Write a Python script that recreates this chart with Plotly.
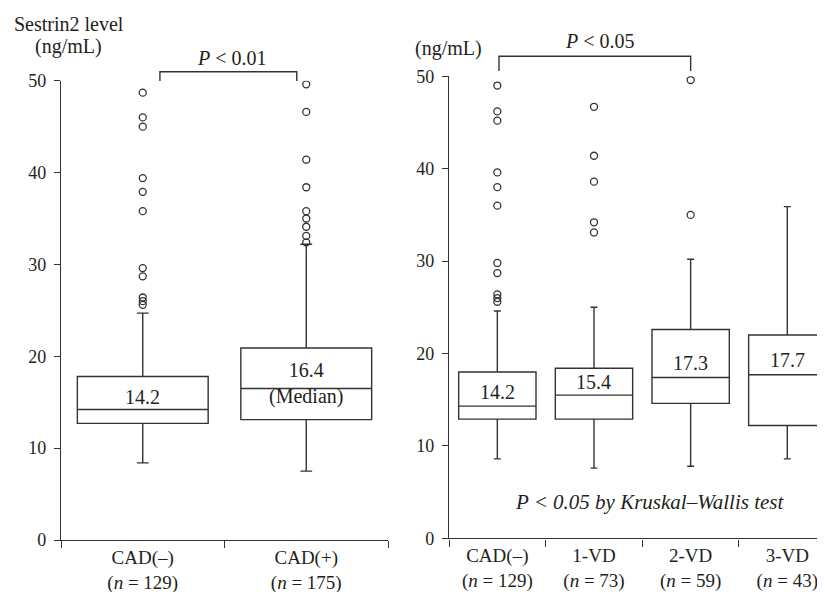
import plotly.graph_objects as go

# ---------------- data ----------------
left_cats = ["CAD(–)", "CAD(+)"]
left_ticktext = ["CAD(–)<br>(<i>n</i> = 129)", "CAD(+)<br>(<i>n</i> = 175)"]
left_q1 = [12.7, 13.1]
left_median = [14.2, 16.5]
left_q3 = [17.8, 20.9]
left_lower = [8.4, 7.5]
left_upper = [24.7, 32.2]
left_median_labels = ["14.2", "16.4<br>(Median)"]
left_outliers = {
    "CAD(–)": [48.7, 46.0, 45.0, 39.4, 37.9, 35.8, 29.6, 28.7, 26.4, 26.0, 25.6],
    "CAD(+)": [49.6, 46.6, 41.4, 38.4, 35.8, 35.0, 34.1, 33.1, 32.4],
}

right_cats = ["CAD(–)", "1-VD", "2-VD", "3-VD"]
right_ticktext = ["CAD(–)<br>(<i>n</i> = 129)", "1-VD<br>(<i>n</i> = 73)",
                  "2-VD<br>(<i>n</i> = 59)", "3-VD<br>(<i>n</i> = 43)"]
right_q1 = [12.9, 12.9, 14.6, 12.2]
right_median = [14.3, 15.5, 17.4, 17.7]
right_q3 = [18.0, 18.4, 22.6, 22.0]
right_lower = [8.6, 7.6, 7.8, 8.6]
right_upper = [24.6, 25.0, 30.2, 35.9]
right_median_labels = ["14.2", "15.4", "17.3", "17.7"]
right_outliers = {
    "CAD(–)": [49.0, 46.2, 45.2, 39.6, 38.0, 36.0, 29.8, 28.7, 26.4, 26.0, 25.6],
    "1-VD": [46.7, 41.4, 38.6, 34.2, 33.1],
    "2-VD": [49.6, 35.0],
    "3-VD": [],
}

y_ticks = [0, 10, 20, 30, 40, 50]

# ---------------- style / geometry ----------------
FONT = "Liberation Serif, Times New Roman, serif"
TXT = "#231f20"
LINE = "#333333"
OFF = 8            # page body margin
W, H = 825 - OFF, 592 - OFF


def px(x):
    return (x - OFF) / W


def py(y):
    return 1 - (y - OFF) / H


fig = go.Figure()


def add_panel(cats, q1, med, q3, lo, up, outl, xa, ya):
    fig.add_trace(go.Box(
        x=cats, q1=q1, median=med, q3=q3, lowerfence=lo, upperfence=up,
        width=0.8, whiskerwidth=0.09, fillcolor="white",
        line=dict(color=LINE, width=1.4), boxpoints=False,
        xaxis=xa, yaxis=ya, showlegend=False, hoverinfo="skip"))
    ox, oy = [], []
    for c in cats:
        for v in outl.get(c, []):
            ox.append(c)
            oy.append(v)
    fig.add_trace(go.Scatter(
        x=ox, y=oy, mode="markers", xaxis=xa, yaxis=ya, showlegend=False,
        marker=dict(symbol="circle-open", size=7, color=LINE,
                    line=dict(width=1.3, color=LINE)),
        hoverinfo="skip"))


add_panel(left_cats, left_q1, left_median, left_q3, left_lower, left_upper,
          left_outliers, "x", "y")
add_panel(right_cats, right_q1, right_median, right_q3, right_lower, right_upper,
          right_outliers, "x2", "y2")

# median labels (inside the boxes, above the median line)
left_label_offset = [1.35, 0.5]
for c, m, t, off in zip(left_cats, left_median, left_median_labels, left_label_offset):
    fig.add_annotation(x=c, y=m + off, xref="x", yref="y", text=t, showarrow=False,
                       font=dict(family=FONT, size=20, color=TXT), yanchor="middle")
right_label_offset = [1.55, 1.45, 1.55, 1.55]
for c, m, t, off in zip(right_cats, right_median, right_median_labels, right_label_offset):
    fig.add_annotation(x=c, y=m + off, xref="x2", yref="y2", text=t, showarrow=False,
                       font=dict(family=FONT, size=20, color=TXT), yanchor="middle")

axis_common = dict(showgrid=False, zeroline=False, showline=True, linecolor=LINE,
                   linewidth=1.4, ticks="outside", tickcolor=LINE, tickwidth=1.4,
                   automargin=False)

fig.update_layout(
    template="none",
    width=W, height=H, margin=dict(l=0, r=0, t=0, b=0, pad=0, autoexpand=False),
    paper_bgcolor="white", plot_bgcolor="white",
    font=dict(family=FONT, color=TXT),
    xaxis=dict(domain=[px(61), px(388)], type="category",
               categoryorder="array", categoryarray=left_cats,
               tickvals=left_cats, ticktext=left_ticktext, tickson="boundaries",
               range=[-0.5, 1.5], ticklen=7, anchor="y",
               tickfont=dict(family=FONT, size=19, color=TXT), **axis_common),
    yaxis=dict(domain=[py(540), py(80.7)], range=[0, 50], tickvals=y_ticks,
               ticklen=6, anchor="x", ticklabelstandoff=4,
               tickfont=dict(family=FONT, size=18, color=TXT), **axis_common),
    xaxis2=dict(domain=[px(449), 1.0], type="category",
                categoryorder="array", categoryarray=right_cats,
                tickvals=right_cats, ticktext=right_ticktext, tickson="boundaries",
                range=[-0.5, 3.39], ticklen=7, anchor="y2",
                tickfont=dict(family=FONT, size=19, color=TXT), **axis_common),
    yaxis2=dict(domain=[py(538.3), py(76.3)], range=[0, 50], tickvals=y_ticks,
                ticklen=6, anchor="x2", ticklabelstandoff=4,
                tickfont=dict(family=FONT, size=18, color=TXT), **axis_common),
)

# brackets
fig.add_shape(type="path", xref="x", yref="paper",
              path=f"M 0.105,{py(81)} L 0.105,{py(71.7)} L 0.942,{py(71.7)} L 0.942,{py(81)}",
              line=dict(color=LINE, width=1.4))
fig.add_shape(type="path", xref="x2", yref="paper",
              path=f"M 0.017,{py(71)} L 0.017,{py(56.3)} L 2.0,{py(56.3)} L 2.0,{py(71)}",
              line=dict(color=LINE, width=1.4))


def txt(x, y, t, size=19):
    fig.add_annotation(x=px(x), y=py(y), xref="paper", yref="paper",
                       text=t, showarrow=False, xanchor="center", yanchor="middle",
                       font=dict(family=FONT, size=size, color=TXT))


txt(69.5, 24, "Sestrin2 level", 20)
txt(68.5, 47, "(ng/mL)", 20)
txt(448, 48, "(ng/mL)", 20)
txt(232, 58, "<i>P</i> < 0.01", 20)
txt(600, 41, "<i>P</i> < 0.05", 20)
txt(649.7, 502, "<i>P < 0.05 by Kruskal–Wallis test</i>", 21)

fig.write_html("out.html")
